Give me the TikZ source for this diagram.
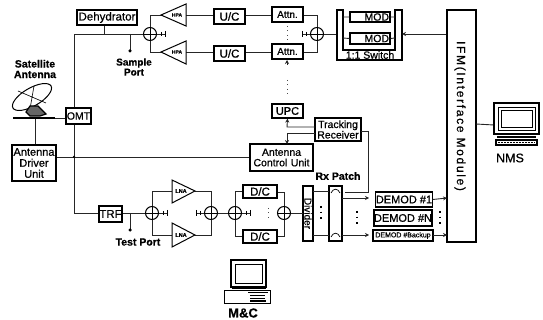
\documentclass[tikz,border=0pt]{standalone}
\usepackage{fontspec}
\setmainfont{Liberation Sans}
\usetikzlibrary{arrows.meta,shapes.geometric,calc}
\newcommand{\fs}[1]{\fontsize{#1}{#1}\selectfont\addfontfeature{FakeBold=0.6}}
\tikzset{
 x=1pt,y=-1pt,
 wire/.style={line width=0.9pt,draw=black!85},
 arr/.style={wire,-{Stealth[length=4pt,width=4pt]}},
 blk/.style={draw=black,line width=1.2pt,fill=white,inner sep=0pt,align=center,font=\fs{11.5}},
 hyb/.style={circle,draw=black,line width=1pt,minimum size=13pt,inner sep=0pt,fill=white},
 lab/.style={font=\fs{10.5}\bfseries,align=center,inner sep=0pt},
 port/.style={circle,fill=black,inner sep=0pt,minimum size=3.5pt},
 vdots/.style={line width=1.6pt,dash pattern=on 1.6pt off 4pt,draw=black},
 tinydots/.style={line width=0.7pt,dash pattern=on 1pt off 3.5pt,draw=black!70},
}
\newcommand{\bx}[6]{\node[blk,minimum width=#4-#2,minimum height=#5-#3,#6] (#1) at ({(#2+#4)/2},{(#3+#5)/2})}
\newcommand{\hx}[3]{\node[hyb] (#1) at (#2,#3) {}; \draw[line width=.8pt] (#1.north)--(#1.south) (#1.west)--(#1.east);}
\newcommand{\term}[3]{\draw[wire] (#1,#2)--++(#3,0); \draw[line width=.8pt] (#1+#3,#2-3)--(#1+#3,#2+3);\draw[line width=.8pt] (#1+#3/2,#2-2)--(#1+#3/2,#2+2);}
\begin{document}
\begin{tikzpicture}
\useasboundingbox (0,0) rectangle (543,320);
% wires behind
\coordinate (j1) at (74,34);
\coordinate (j2) at (74,213);
\draw[wire] (104,25)--(104,34)--(j1)--(j2)--(99,213);
\draw[wire] (104,34)--(143,34);
\draw[wire] (130,34)--(130,51);
\node[port] (sp) at (130,51) {};
\draw[wire] (35,118)--(66,118);
\draw[wire] (35,118)--(35,145);
\draw[wire] (56,157)--(250,157);
\node[port,minimum size=2.5pt] (jc) at (74,157) {};
% upper branch
\draw[wire] (150,27)--(150,15)--(162,15);
\draw[wire] (150,41)--(150,52)--(162,52);
\draw[wire] (186,15)--(214,15);
\draw[wire] (186,52)--(214,52);
\draw[wire] (245,15)--(272,15);
\draw[wire] (245,52)--(272,52);
\draw[wire] (303,15)--(317,15)--(317,27);
\draw[wire] (303,52)--(317,52)--(317,41);
\draw[wire] (324,34)--(337,34);
% lower branch
\draw[wire] (122,213)--(145,213);
\draw[wire] (130,213)--(130,230);
\node[port] (tp) at (130,230) {};
\draw[wire] (152,206)--(152,191)--(172,191);
\draw[wire] (152,220)--(152,235)--(172,235);
\draw[wire] (195,191)--(211,191)--(211,206);
\draw[wire] (195,235)--(211,235)--(211,220);
\draw[wire] (218,213)--(228,213);
\draw[wire] (235,206)--(235,191)--(243,191);
\draw[wire] (235,220)--(235,236)--(243,236);
\draw[wire] (277,192)--(284,192)--(284,206);
\draw[wire] (277,236)--(284,236)--(284,220);
% amplifiers
\draw[line width=1pt,fill=white] (161,15)--(186,4)--(186,26)--cycle;
\draw[line width=1pt,fill=white] (161,52)--(186,41)--(186,64)--cycle;
\node[font=\fs{5}\bfseries,inner sep=0pt] (hpa1) at (177,15) {HPA};
\node[font=\fs{5}\bfseries,inner sep=0pt] (hpa2) at (177,52) {HPA};
\draw[line width=1pt,fill=white] (195,191)--(172,180)--(172,203)--cycle;
\draw[line width=1pt,fill=white] (195,235)--(172,223)--(172,247)--cycle;
\node[font=\fs{5.5}\bfseries,inner sep=0pt] (lna1) at (181,191) {LNA};
\node[font=\fs{5.5}\bfseries,inner sep=0pt] (lna2) at (181,235) {LNA};
% hybrids
\hx{h1}{150}{34}\hx{h2}{317}{34}\hx{h3}{152}{213}\hx{h4}{211}{213}\hx{h5}{235}{213}\hx{h6}{284}{213}
\term{157}{34}{8}\term{310}{34}{-8}\term{159}{213}{8}\term{204}{213}{-8}\term{242}{213}{8}
\draw[tinydots] (268,208)--(268,220);
% boxes
\bx{dehy}{77}{10}{137}{25}{}{Dehydrator};
\bx{omt}{66}{108}{91}{124}{font=\fs{10.5}}{OMT};
\bx{adu}{12}{145}{56}{181}{font=\fs{11},text width=44pt}{Antenna\\Driver\\Unit};
\bx{uc1}{214}{9}{245}{24}{}{U/C};
\bx{uc2}{214}{46}{245}{61}{}{U/C};
\bx{att1}{272}{7}{303}{22}{font=\fs{10}}{Attn.};
\bx{att2}{272}{44}{303}{59}{font=\fs{10}}{Attn.};
\bx{upc}{272}{104}{303}{118}{font=\fs{11}}{UPC};
\bx{trk}{315}{118}{361}{141}{font=\fs{10.5},text width=46pt}{Tracking\\Receiver};
\bx{acu}{250}{144}{313}{171}{font=\fs{10.5},text width=63pt}{Antenna\\Control Unit};
\bx{trf}{99}{206}{122}{222}{}{TRF};
\bx{dc1}{243}{185}{277}{198}{}{D/C};
\bx{dc2}{243}{230}{277}{243}{}{D/C};
\bx{div}{303}{186}{313}{241}{rotate=-90,minimum width=55pt,minimum height=10pt,font=\fs{10}}{Divider};
\bx{rxp}{329}{186}{342}{241}{}{};
\draw[line width=.7pt] (331,193) .. controls (333,188) and (338,188) .. (340,193);
\draw[line width=.7pt] (331,237) .. controls (333,232) and (338,232) .. (340,237);
\bx{dem1}{376}{192}{432}{207}{font=\fs{11}}{DEMOD \#1};
\bx{demn}{374}{210}{432}{226}{font=\fs{11}}{DEMOD \#N};
\bx{demb}{373}{230}{433}{241}{font=\fs{7}}{DEMOD \#Backup};
\bx{ifm}{447}{10}{476}{242}{}{};
\node[rotate=-90,font=\fs{12}\addfontfeature{LetterSpace=14},inner sep=0pt] (ifmt) at (460,116) {IFM(Interface Module)};
% 1:1 switch
\draw[line width=1.2pt,fill=white] (337,10)--(337,60)--(402,60)--(402,10)--(395,10)--(395,50)--(343,50)--(343,10)--cycle;
\coordinate (swl) at (337,34);
\coordinate (swr) at (402,34);
\node[font=\fs{10.5},inner sep=0pt] (swt) at (370,55) {1:1 Switch};
\bx{mod1}{350}{12}{390}{22}{anchor=center,font=\fs{10.5},text width=38pt,align=right}{MOD};
\bx{mod2}{350}{33}{390}{44}{anchor=center,font=\fs{10.5},text width=38pt,align=right}{MOD};
\draw[wire] (343,17)--(mod1.west) (mod1.east)--(395,17) (343,38)--(mod2.west) (mod2.east)--(395,38);
% arrows
\draw[arr] (ifm.west|-swr)--(swr);
\draw[arr] (315,127)--(287,127)--(upc.south);
\draw[arr] (315,133)--(287,133)--(287,144);
\draw[wire] (361,131)--(368,131)--(368,192)--(345,192);
\draw[wire] (313,191)--(329,191) (313,235)--(329,235);
\draw[arr] (342,198)--(369,198);
\draw[arr] (342,235)--(369,235);
\draw[arr] (dem1.east)--(447,198);
\draw[arr] (433,235)--(447,235);
\draw[wire] (291,213)--(303,213);
\draw[arr] (287,65)--(287,60);
\draw[tinydots] (287,26)--(287,40) (287,80)--(287,96);
\draw[vdots] (321,206)--(321,222);
\draw[vdots] (357,211)--(357,224);
\draw[vdots] (440,211)--(440,224);
\draw[wire] (476,124)--(494,125);
% labels
\node[lab] (l1) at (35,69) {Satellite\\Antenna};
\node[lab,font=\fs{10}\bfseries] (l2) at (134,67) {Sample\\Port};
\node[lab] (l3) at (138,242) {Test Port};
\node[lab] (l4) at (338,176) {Rx Patch};
\node[font=\fs{12.5},inner sep=0pt] (l5) at (510,158) {NMS};
\node[font=\fs{13}\bfseries,inner sep=0pt] (l6) at (243,313) {M\&C};
% antenna
\draw[line width=1pt,fill=white,rotate around={30:(32,97)}] (32,97) ellipse (22 and 9);
\draw[line width=.6pt] (18,91)--(46,103) (34,86)--(30,109);
\draw[line width=1.2pt,fill=black!60] (26,112)--(30,106)--(38,106)--(46,114)--(40,116)--(30,116)--cycle;
\draw[line width=2pt] (13,118)--(55,118);
% NMS
\draw[line width=1.1pt,fill=white] (494,103)--(539,103)--(539,134)--(494,134)--cycle;
\draw[line width=.8pt] (498,107)--(535,107)--(535,130)--(498,130)--cycle;
\draw[line width=.6pt] (501,110)--(532,110)--(532,127)--(501,127)--cycle;
\fill (497,136) rectangle (536,138);
\draw[line width=1.5pt,fill=white] (496,140) rectangle (537,145);
\draw[line width=1pt,dash pattern=on 2pt off 1pt] (498,142.5)--(535,142.5);
% M&C
\draw[line width=1.1pt,fill=white] (231,260)--(266,260)--(266,287)--(231,287)--cycle;
\draw[line width=.8pt] (235,264)--(262,264)--(262,283)--(235,283)--cycle;
\draw[line width=1.2pt] (232,288)--(266,288);
\draw[line width=1pt,fill=white] (224,290)--(270,290)--(270,303)--(224,303)--cycle;
\draw[line width=.8pt] (248,292)--(268,292) (250,295)--(265,295) (250,298)--(265,298);
\fill (250,300) rectangle (266,302);
\end{tikzpicture}
\end{document}
